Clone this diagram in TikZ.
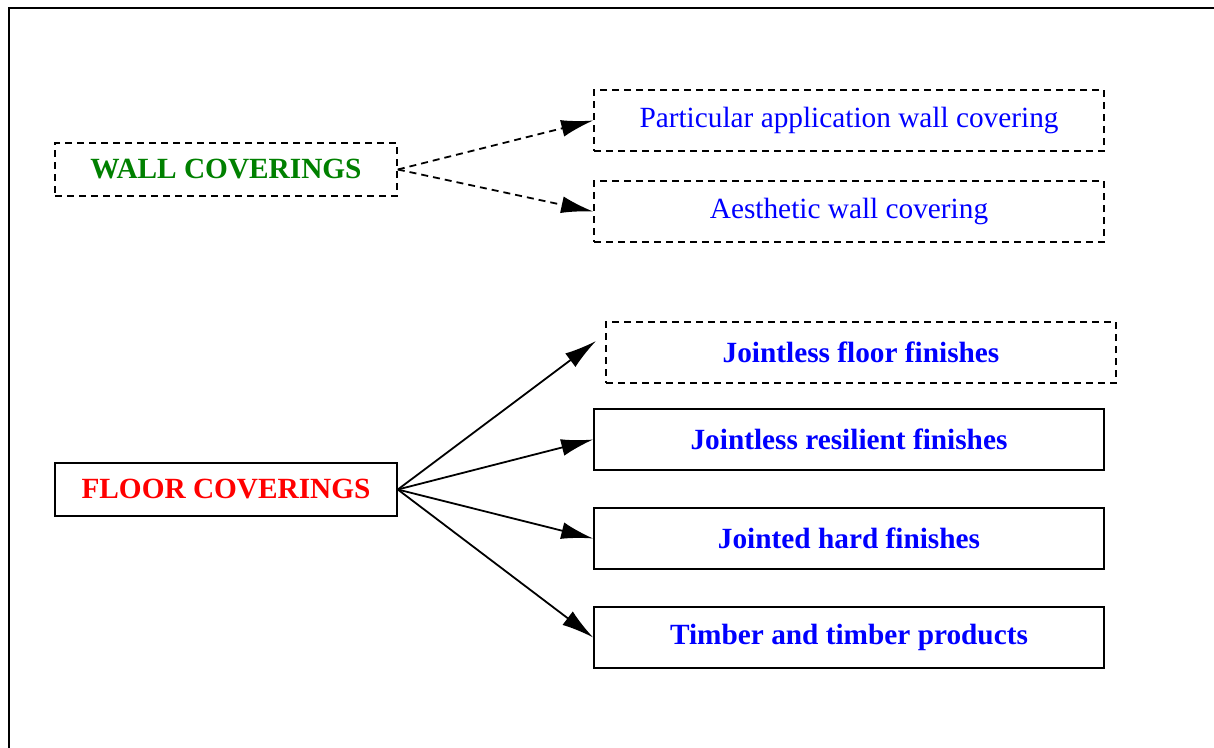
\documentclass[tikz,border=0pt]{standalone}
\usepackage{fontspec}
\setmainfont{Liberation Serif}
\usetikzlibrary{arrows.meta}
\definecolor{wallgreen}{RGB}{0,128,0}
\begin{document}
\begin{tikzpicture}[x=1pt,y=-1pt,
  box/.style={draw=black,line width=1.6pt,minimum width=510pt,minimum height=61pt,inner sep=0pt,font=\fontsize{29.3}{33}\selectfont,text=blue},
  mainbox/.style={draw=black,line width=1.6pt,minimum width=342pt,minimum height=53pt,inner sep=0pt,font=\fontsize{29.3}{33}\selectfont\bfseries},
  bbox/.style={box,font=\fontsize{29.3}{33}\selectfont\bfseries},
  dsh/.style={dash pattern=on 7pt off 5pt},
  arr/.style={line width=1.8pt,-{Latex[length=32pt,width=17pt]}}]
\clip (0,0) rectangle (1214,747);
\draw[line width=2pt] (9,8) rectangle (1400,900);
\node[mainbox,dsh,text=wallgreen] (wall) at (226,169.5) {WALL COVERINGS};
\node[mainbox,text=red] (floor) at (226,489.5) {FLOOR COVERINGS};
\node[box,dsh] (part) at (849,120.5) {Particular application wall covering};
\node[box,dsh] (aes) at (849,211.5) {Aesthetic wall covering};
\node[bbox,dsh] (jfl) at (861,352.5) {Jointless floor finishes};
\node[bbox] (jres) at (849,439.5) {Jointless resilient finishes};
\node[bbox] (jhard) at (849,538.5) {Jointed hard finishes};
\node[bbox] (timber) at (849,637.5) {Timber and timber products};
\coordinate (jflend) at (596,341);
\draw[arr,dsh] (wall.east) -- (part.west);
\draw[arr,dsh] (wall.east) -- (aes.west);
\draw[arr] (floor.east) -- (jflend);
\draw[arr] (floor.east) -- (jres.west);
\draw[arr] (floor.east) -- (jhard.west);
\draw[arr] (floor.east) -- (timber.west);
\end{tikzpicture}
\end{document}
